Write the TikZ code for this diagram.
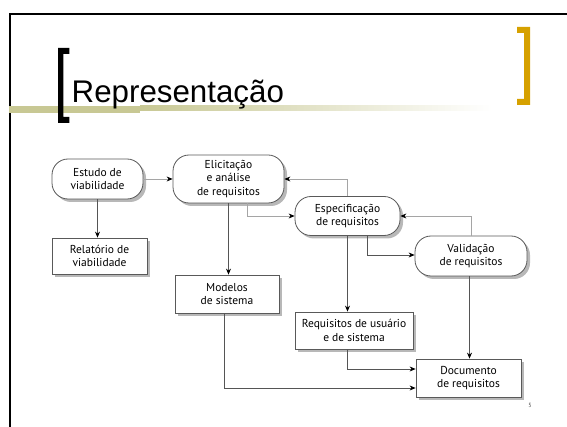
\documentclass[tikz,border=0pt]{standalone}
\usepackage{fontspec}
\usetikzlibrary{arrows.meta,shadows}
\newfontfamily\titlefont{Liberation Sans}
\newfontfamily\boxfont{PT Sans}
\definecolor{olivebar}{RGB}{200,200,148}
\definecolor{goldbr}{RGB}{214,161,0}
\definecolor{linedark}{RGB}{85,85,85}
\definecolor{linelight}{RGB}{165,165,165}
\tikzset{
  box/.style={draw=black!65, line width=0.8pt, fill=white, align=center, inner sep=0pt,
    font=\boxfont\fontsize{11.5}{13.5}\selectfont,
    drop shadow={shadow xshift=3pt, shadow yshift=-3pt, fill=black!28, opacity=1}},
  procbox/.style={box, rounded corners=16pt},
  docbox/.style={box},
  conn/.style={draw=linedark, line width=0.7pt, -{Stealth[length=6pt,width=5pt,color=black]}},
  connl/.style={conn, draw=linelight}
}
\begin{document}
\begin{tikzpicture}[x=1pt,y=-1pt]
\useasboundingbox (0,0) rectangle (567,427);
\begin{scope}
\clip (0,0) rectangle (567,427);
% slide frame
\draw[line width=2.3pt] (9.7,430) -- (9.7,13.8) -- (570,13.8);
% olive bar
\fill[olivebar] (9,105.6) rectangle (140,112.6);
\shade[left color=olivebar, right color=white] (140,105.6) rectangle (492,110.6);
% brackets
\fill[black] (58,48) -- (69.4,48) -- (69.4,54) -- (63.3,54) -- (63.3,117) -- (69.4,117) -- (69.4,123) -- (58,123) -- cycle;
\fill[goldbr] (517,27) -- (530,27) -- (530,105) -- (517,105) -- (517,99) -- (524,99) -- (524,33) -- (517,33) -- cycle;
\end{scope}
% title
\node[anchor=base west, inner sep=0pt, font=\titlefont\fontsize{31.3}{33}\selectfont] (title) at (71.5,102.3) {Representação};
% page number
\node[inner sep=0pt, font=\boxfont\fontsize{6}{7}\selectfont, text=black!70] (pg) at (530,405) {5};

% nodes
\node[procbox, minimum width=91pt, minimum height=40pt] (est) at (97.5,179) {Estudo de\\viabilidade};
\node[docbox, minimum width=95pt, minimum height=36pt] (rel) at (99.5,256) {Relatório de\\viabilidade};
\node[procbox, minimum width=111pt, minimum height=48pt] (eli) at (228.5,179) {Elicitação\\e análise\\de requisitos};
\node[procbox, minimum width=105pt, minimum height=39pt] (esp) at (347.5,216) {Especificação\\de requisitos};
\node[procbox, minimum width=112pt, minimum height=40pt] (val) at (471,256) {Validação\\de requisitos};
\node[docbox, minimum width=104pt, minimum height=38pt] (mod) at (227,294) {Modelos\\de sistema};
\node[docbox, minimum width=118pt, minimum height=37pt] (req) at (354,330.5) {Requisitos de usuário\\e de sistema};
\node[docbox, minimum width=105pt, minimum height=38pt] (doc) at (468.5,378) {Documento\\de requisitos};

% connectors
\draw[connl] (est.east) -- (eli.west |- est.east);
\draw[conn] (est.south) -- (est.south |- rel.north);
\draw[conn] (eli.south) -- (eli.south |- mod.north);
\draw[connl] ([xshift=19pt]eli.south) |- (esp.west);
\draw[connl] (esp.north) |- (eli.east);
\draw[conn] (esp.south) -- (esp.south |- req.north);
\draw[conn] ([xshift=19.5pt]esp.south) |- ([yshift=1pt]val.west);
\draw[connl] (val.north) |- (esp.east);
\draw[conn] ([xshift=-1.5pt]val.south) -- ([xshift=-1.5pt]val.south |- doc.north);
\draw[conn] ([xshift=-7pt]req.south) |- ([yshift=9pt]doc.west);
\draw[conn] ([xshift=-3pt]mod.south) |- ([yshift=-10pt]doc.west);
\end{tikzpicture}
\end{document}
